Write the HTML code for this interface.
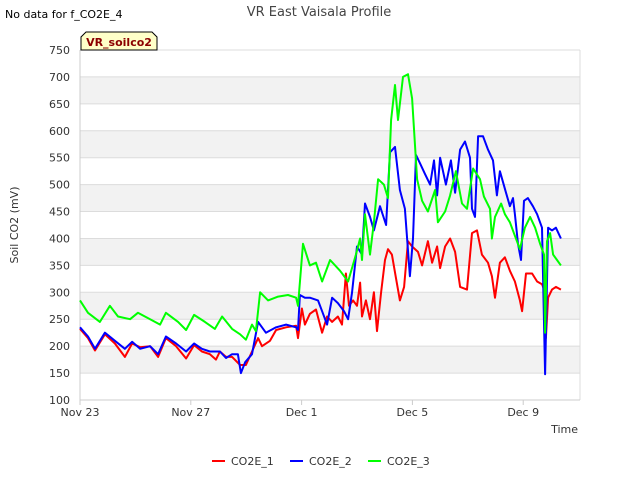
<!DOCTYPE html>
<html><head><meta charset="utf-8"><style>
body{margin:0;background:#fff;font-family:"Liberation Sans","DejaVu Sans",sans-serif}
svg text{font-family:"DejaVu Sans","Liberation Sans",sans-serif}
</style></head><body>
<svg id="chart" width="640" height="480" xmlns="http://www.w3.org/2000/svg">
<rect width="640" height="480" fill="#fff"/>
<g id="bands"></g><g id="grid"></g><g id="axes"></g><g id="series"></g>
<text x="319" y="16" text-anchor="middle" font-size="13" fill="#444">VR East Vaisala Profile</text>
<text x="5" y="18" font-size="11" fill="#000">No data for f_CO2E_4</text>
<g>
<path d="M81,50 L81,37 L86,32 L152,32 L157,37 L157,50 Z" fill="#ffffc8" stroke="#000" stroke-width="1"/>
<text x="119" y="46" text-anchor="middle" font-size="11" font-weight="bold" fill="#8b0000">VR_soilco2</text></g>
<text transform="translate(18,225) rotate(-90)" text-anchor="middle" font-size="11" fill="#333">Soil CO2 (mV)</text>
<text x="578" y="433" text-anchor="end" font-size="11" fill="#333">Time</text>
<g id="legend"></g>
</svg>
<script>
const yTicks=[100,150,200,250,300,350,400,450,500,550,600,650,700,750];
const xTickDays=[0,4,8,12,16];
const xTickLabels=["Nov 23","Nov 27","Dec 1","Dec 5","Dec 9"];
const seriesNames=["CO2E_1","CO2E_2","CO2E_3"];
const seriesColors=["#ff0000","#0000ff","#00ff00"];
const t1=[0,.29,.54,.90,1.26,1.62,1.88,2.17,2.53,2.82,3.10,3.47,3.83,4.12,4.40,4.69,4.91,5.05,5.27,5.49,5.78,5.99,6.21,6.43,6.57,6.86,7.08,7.44,7.80,7.87,8.01,8.12,8.30,8.52,8.74,8.92,9.10,9.31,9.46,9.60,9.71,9.86,10.0,10.11,10.18,10.32,10.47,10.61,10.72,10.87,11.01,11.12,11.26,11.41,11.55,11.70,11.84,11.99,12.20,12.35,12.56,12.71,12.89,13.0,13.18,13.36,13.54,13.72,13.97,14.15,14.33,14.51,14.73,14.87,14.98,15.16,15.34,15.52,15.70,15.88,15.96,16.10,16.32,16.50,16.68,16.79,16.82,16.90,17.04,17.18,17.36];
const v1=[232,215,192,222,205,180,205,198,200,180,215,200,177,202,190,185,175,190,180,180,165,165,190,215,200,210,230,235,238,215,270,240,260,268,225,255,245,255,240,335,275,285,275,318,255,285,250,300,228,300,360,380,370,325,285,310,395,385,375,350,395,355,385,345,385,400,375,310,305,410,415,370,355,330,290,355,365,340,320,285,265,335,335,320,315,300,215,290,305,310,305];
const t2=[0,.29,.54,.90,1.26,1.62,1.88,2.17,2.53,2.82,3.10,3.47,3.83,4.12,4.40,4.69,5.05,5.27,5.49,5.70,5.81,5.96,6.21,6.43,6.71,7.08,7.44,7.80,7.87,7.94,8.12,8.30,8.59,8.74,8.92,9.10,9.31,9.53,9.68,9.82,10.0,10.18,10.29,10.47,10.61,10.83,11.05,11.19,11.37,11.55,11.73,11.91,12.02,12.13,12.27,12.45,12.64,12.78,12.89,13.0,13.21,13.39,13.54,13.72,13.90,14.08,14.15,14.26,14.37,14.55,14.73,14.91,15.05,15.16,15.38,15.52,15.63,15.70,15.81,15.92,16.03,16.17,16.35,16.50,16.68,16.79,16.90,17.04,17.18,17.36];
const v2=[235,218,195,225,210,195,208,195,200,185,218,205,190,205,195,190,190,178,185,185,150,170,185,245,225,235,240,235,230,295,290,290,285,265,240,290,280,265,250,299,385,370,465,440,415,460,425,560,570,490,455,330,400,555,540,520,500,545,480,550,500,545,485,565,580,550,455,440,590,590,565,545,480,525,485,460,475,445,390,360,470,475,460,445,420,148,420,415,420,400];
const t3=[0,.29,.72,1.08,1.37,1.81,2.09,2.53,2.89,3.10,3.54,3.83,4.12,4.51,4.87,5.13,5.49,5.78,5.99,6.21,6.35,6.50,6.79,7.15,7.51,7.80,7.87,8.05,8.30,8.52,8.74,9.03,9.39,9.68,9.82,9.96,10.11,10.18,10.29,10.47,10.61,10.76,10.97,11.12,11.23,11.37,11.48,11.66,11.84,11.99,12.17,12.35,12.56,12.82,12.92,13.18,13.36,13.57,13.79,13.97,14.19,14.44,14.58,14.80,14.87,14.98,15.20,15.34,15.52,15.70,15.88,16.06,16.25,16.43,16.61,16.75,16.79,16.86,16.97,17.08,17.22,17.36];
const v3=[285,262,245,275,255,250,262,250,240,262,245,230,258,245,232,255,232,222,212,240,228,300,285,292,295,290,275,390,350,355,320,360,340,320,345,370,400,360,445,370,430,510,500,475,620,685,620,700,705,660,510,470,450,490,430,450,480,525,465,455,530,510,478,455,400,440,465,445,430,405,380,420,440,420,390,370,225,395,410,370,360,350];
const L=80,R=580,T=50,B=400,D0=0,D1=18.05,V0=100,V1=750;
const xs=d=>L+(d-D0)/(D1-D0)*(R-L);
const ys=v=>B-(v-V0)/(V1-V0)*(B-T);
const NS="http://www.w3.org/2000/svg";
function mk(tag,parent,attrs){const e=document.createElementNS(NS,tag);for(const k in attrs)e.setAttribute(k,attrs[k]);document.getElementById(parent).appendChild(e);return e;}
for(let i=0;i<yTicks.length-1;i++){if(i%2===1){const b=mk('rect','bands',{x:L,y:ys(yTicks[i+1]),width:R-L,height:ys(yTicks[i])-ys(yTicks[i+1]),fill:'#f2f2f2'});

}}
yTicks.forEach(v=>{const g=mk('line','grid',{x1:L,x2:R,y1:ys(v),y2:ys(v),stroke:'#dcdcdc','stroke-width':1});


const t=mk('text','axes',{x:L-10,y:ys(v)+4,'text-anchor':'end','font-size':11,fill:'#333'});t.textContent=v;

});
mk('line','axes',{x1:R,x2:R,y1:T,y2:B,stroke:'#dcdcdc'});
mk('line','axes',{x1:L,x2:L,y1:T,y2:B,stroke:'#ccc'});
mk('line','axes',{x1:L,x2:R,y1:B,y2:B,stroke:'#ccc'});
xTickDays.forEach((d,i)=>{mk('line','axes',{x1:xs(d),x2:xs(d),y1:B,y2:B+5,stroke:'#ccc'});
const t=mk('text','axes',{x:xs(d),y:B+16,'text-anchor':'middle','font-size':11,fill:'#333'});t.textContent=xTickLabels[i];

});
[[t1,v1],[t2,v2],[t3,v3]].forEach(([t,v],i)=>{const p=mk('polyline','series',{points:t.map((d,j)=>xs(d).toFixed(1)+','+ys(v[j]).toFixed(1)).join(' '),fill:'none',stroke:seriesColors[i],'stroke-width':2,'stroke-linejoin':'round'});

});
const lx=[212,290,368];
seriesNames.forEach((n,i)=>{const g=mk('g','legend',{});


const l=document.createElementNS(NS,'line');l.setAttribute('x1',lx[i]);l.setAttribute('x2',lx[i]+13);l.setAttribute('y1',461);l.setAttribute('y2',461);l.setAttribute('stroke',seriesColors[i]);l.setAttribute('stroke-width',2);g.appendChild(l);
const t=document.createElementNS(NS,'text');t.setAttribute('x',lx[i]+19);t.setAttribute('y',465);t.setAttribute('font-size',11);t.setAttribute('fill','#333');t.textContent=n;g.appendChild(t);});
</script>
</body></html>
